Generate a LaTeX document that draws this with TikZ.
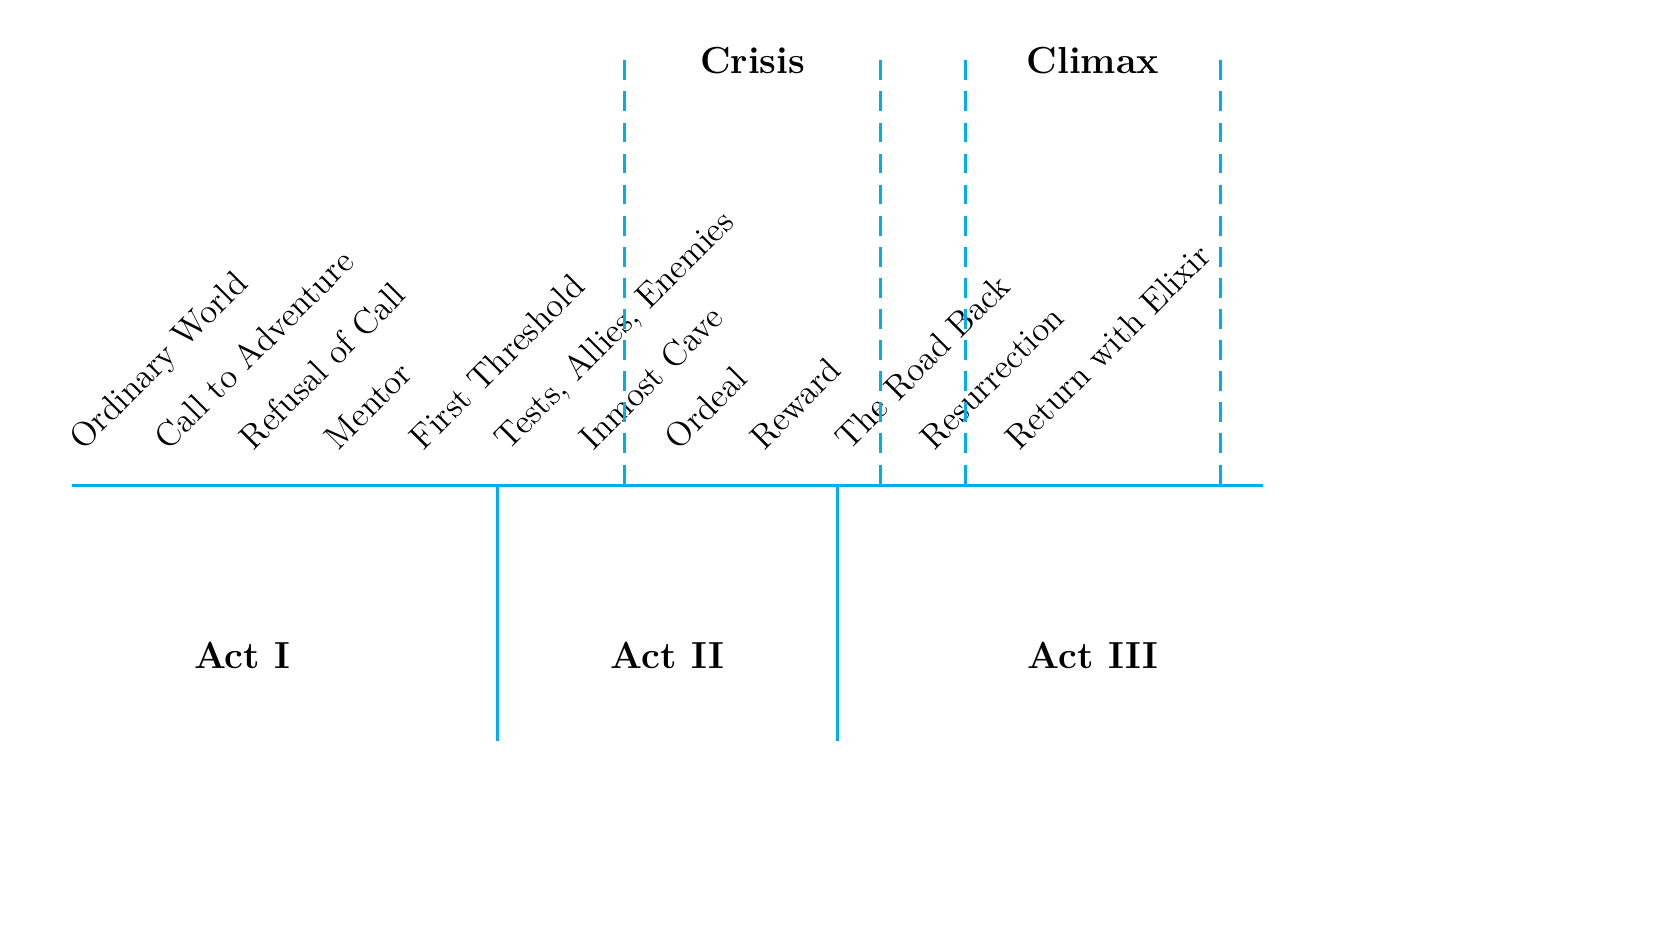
\documentclass[tikz,border=0pt,11pt]{standalone}
\definecolor{actblue}{RGB}{0,174,239}

\begin{document}
\begin{tikzpicture}[font=\normalsize,
  stage/.style={rotate=45, anchor=base west, inner sep=0pt, font=\fontsize{11.5}{14}\selectfont},
  actlabel/.style={font=\fontsize{12.6}{15}\selectfont\bfseries},
  actline/.style={actblue, line width=1pt},
  zoneline/.style={actblue, line width=1pt, dash pattern=on 6.6pt off 3.8pt}]
\useasboundingbox (-0.846,-5.246) rectangle (18.855,5.709);

\node[stage] (OW) at (0.13,0.40)  {Ordinary World};
\node[stage] (CA) at (1.13,0.40)  {Call to Adventure};
\node[stage] (RC) at (2.13,0.40)  {Refusal of Call};
\node[stage] (ME) at (3.13,0.40)  {Mentor};
\node[stage] (FT) at (4.13,0.40)  {First Threshold};
\node[stage] (TA) at (5.13,0.40)  {Tests, Allies, Enemies};
\node[stage] (IC) at (6.13,0.40)  {Inmost Cave};
\node[stage] (OR) at (7.13,0.40)  {Ordeal};
\node[stage] (RW) at (8.13,0.40)  {Reward};
\node[stage] (RB) at (9.13,0.40)  {The Road Back};
\node[stage] (RS) at (10.13,0.40) {Resurrection};
\node[stage] (RE) at (11.13,0.40) {Return with Elixir};

\node[actlabel] (ActI)   at (2,-2)  {Act I};
\node[actlabel] (ActII)  at (7,-2)  {Act II};
\node[actlabel] (ActIII) at (12,-2) {Act III};
\node[actlabel] (Crisis) at (8,5)   {Crisis};
\node[actlabel] (Climax) at (12,5)  {Climax};

\path % Timeline
 (0,0)  coordinate (tleft)
 (14,0) coordinate (tright)
 (5,0)  coordinate (atop1)
 (5,-3) coordinate (abot1)
 (9,0)  coordinate (atop2)
 (9,-3) coordinate (abot2)
 ;
\draw[actline] (tleft) -- (tright);
\draw[actline] (atop1) -- (abot1);
\draw[actline] (atop2) -- (abot2);

\path % Crisis and Climax
 (6.5,5)  coordinate (cstop)  (6.5,0)  coordinate (csbot)
 (9.5,5)  coordinate (cetop)  (9.5,0)  coordinate (cebot)
 (10.5,5) coordinate (xstop)  (10.5,0) coordinate (xsbot)
 (13.5,5) coordinate (xetop)  (13.5,0) coordinate (xebot)
 ;
\draw[zoneline] (cstop) -- (csbot);
\draw[zoneline] (cetop) -- (cebot);
\draw[zoneline] (xstop) -- (xsbot);
\draw[zoneline] (xetop) -- (xebot);

\end{tikzpicture}
\end{document}
